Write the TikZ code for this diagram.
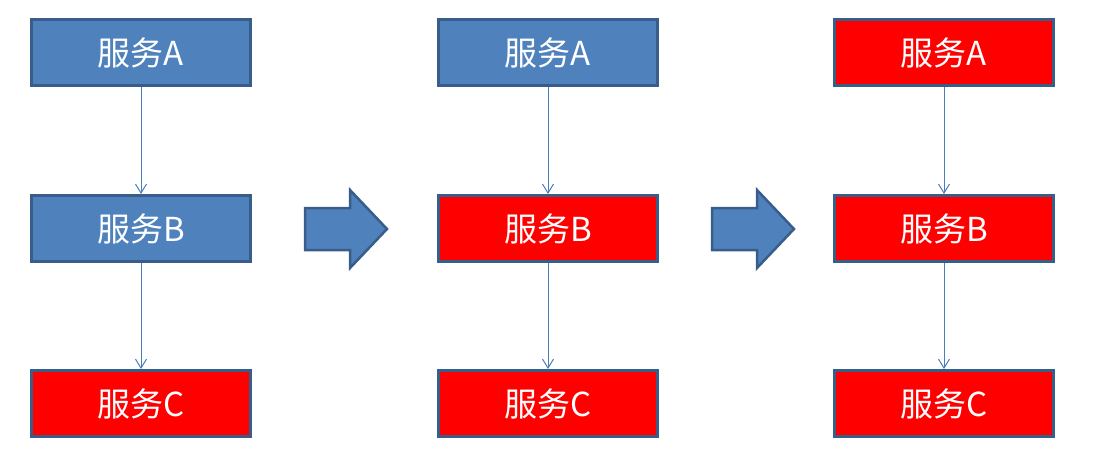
\documentclass[tikz,border=0pt]{standalone}
\usepackage{fontspec}
\setmainfont{Noto Sans CJK SC}
\usetikzlibrary{arrows.meta,positioning}
\definecolor{svcblue}{HTML}{4F81BD}
\definecolor{svcedge}{HTML}{385D8A}
\definecolor{svcred}{HTML}{FF0000}
\definecolor{linkblue}{HTML}{4A7EBB}

\begin{document}
\begin{tikzpicture}[x=0.5pt, y=-0.5pt,
  svc/.style={draw=svcedge, line width=1.5pt, fill=svcblue, minimum
    width=109.5pt, minimum height=33pt, inner sep=0pt, text=white,
    font=\fontsize{16.5}{19}\selectfont},
  down/.style={svc, fill=svcred},
  link/.style={draw=linkblue, line width=0.5pt,
    -{Straight Barb[length=4.5pt, width=5.5pt]}},
  stepto/.style={draw=svcedge, line width=1.25pt, fill=svcblue},
]
\useasboundingbox (0,0) rectangle (1094,457);
% first step: only C is down
\node[svc] (a1) at (141,52.5) {服务A};
\node[svc, below=53.5pt of a1] (b1) {服务B};
\node[down, below=53pt of b1] (c1) {服务C};
% second step: B follows
\node[svc, right=92.5pt of a1] (a2) {服务A};
\node[down, below=53.5pt of a2] (b2) {服务B};
\node[down, below=53pt of b2] (c2) {服务C};
% third step: all down
\node[down, right=87pt of a2] (a3) {服务A};
\node[down, below=53.5pt of a3] (b3) {服务B};
\node[down, below=53pt of b3] (c3) {服务C};
\draw[link] (a1) -- (b1);
\draw[link] (b1) -- (c1);
\draw[link] (a2) -- (b2);
\draw[link] (b2) -- (c2);
\draw[link] (a3) -- (b3);
\draw[link] (b3) -- (c3);
% block arrows between the steps
\draw[stepto] (305,208) -- ++(45,0) -- ++(0,-18) -- ++(37,39) -- ++(-37,39)
  -- ++(0,-18) -- ++(-45,0) -- cycle;
\draw[stepto] (712,208) -- ++(45,0) -- ++(0,-18) -- ++(37,39) -- ++(-37,39)
  -- ++(0,-18) -- ++(-45,0) -- cycle;
\end{tikzpicture}
\end{document}
